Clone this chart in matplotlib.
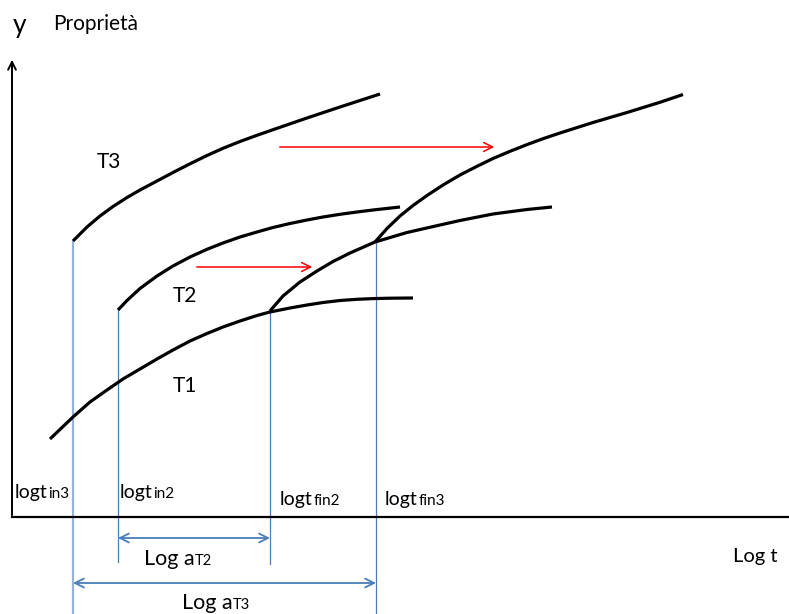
import numpy as np
import matplotlib.pyplot as plt

# curves (image pixel coords, y grows downward)
t1_x = [50, 73, 90, 107, 123, 140, 157, 173, 190, 207, 223, 240, 257, 270, 290, 307, 323, 340, 357, 373, 390, 413]
t1_y = [439, 417, 402, 390, 379, 369, 359, 350, 341, 333.5, 327, 321, 315.5, 312, 308, 305, 302.5, 300.5, 299.3, 298.6, 298.2, 298]
t2_x = [118, 127, 140, 157, 173, 190, 207, 223, 240, 257, 273, 290, 307, 323, 340, 357, 373, 400]
t2_y = [310, 300.5, 288.5, 276, 266, 257, 249.3, 243, 237, 232, 227.5, 223.5, 220, 217, 214.3, 212, 210, 207]
t3_x = [73, 87, 100, 113, 127, 140, 157, 173, 190, 207, 223, 240, 257, 273, 307, 340, 380]
t3_y = [241, 227, 216, 206.5, 197.5, 190, 181, 172.5, 163.8, 155.5, 148.3, 141.5, 135.3, 129.7, 118, 107, 94]
t2s_x = [270, 283, 300, 317, 333, 350, 375, 407, 440, 460, 493, 527, 552]
t2s_y = [311, 296, 282, 271, 261.5, 253, 242, 232.5, 225, 220.5, 214, 209.5, 207]
t3s_x = [375, 387, 400, 413, 427, 443, 460, 477, 493, 510, 527, 543, 560, 593, 627, 660, 683]
t3s_y = [242, 228.5, 216, 205.5, 195.5, 185, 175, 166.3, 158.5, 151.3, 144.6, 138.7, 133, 122.5, 112.5, 102.3, 94.5]

# vertical guides: x, top, bottom, colour, width
guides = [(73, 241, 614, '#95b3d7', 1.6), (118, 310, 562, '#4a7ebb', 0.9),
          (270, 312, 564, '#4a7ebb', 0.9), (376, 242, 614, '#4a7ebb', 0.9)]

fig = plt.figure(figsize=(7.89, 6.14), dpi=100)
ax = fig.add_axes([0, 0, 1, 1])
ax.set_xlim(0, 789)
ax.set_ylim(614, 0)
ax.axis('off')

for xs, ys in [(t1_x, t1_y), (t2_x, t2_y), (t3_x, t3_y), (t2s_x, t2s_y), (t3s_x, t3s_y)]:
    ax.plot(xs, ys, color='black', lw=2.3, solid_capstyle='butt', solid_joinstyle='round', zorder=3)

for gx, top, bot, c, w in guides:
    ax.plot([gx, gx], [top, bot], color=c, lw=w, zorder=2)

# axes
ax.plot([12, 789], [517, 517], color='black', lw=1.6)
ax.annotate('', xy=(12, 57), xytext=(12, 518),
            arrowprops=dict(arrowstyle='->', color='black', lw=1.4, mutation_scale=14))

# red arrows
ax.annotate('', xy=(497, 147), xytext=(277, 147),
            arrowprops=dict(arrowstyle='->', color='#ff0000', lw=1.1, mutation_scale=16))
ax.annotate('', xy=(315, 267), xytext=(194, 267),
            arrowprops=dict(arrowstyle='->', color='#ff0000', lw=1.1, mutation_scale=16))

# blue double arrows
ax.annotate('', xy=(270, 538), xytext=(118, 538),
            arrowprops=dict(arrowstyle='<->', color='#4a7ebb', lw=1.3, mutation_scale=16,
                            shrinkA=0, shrinkB=0))
ax.annotate('', xy=(376, 583), xytext=(73, 583),
            arrowprops=dict(arrowstyle='<->', color='#4a7ebb', lw=1.3, mutation_scale=16,
                            shrinkA=0, shrinkB=0))

fam = 'Lato'
ax.text(13, 33, 'y', fontsize=19, family=fam, va='baseline')
ax.text(53, 30, 'Proprietà', fontsize=15, family=fam, va='baseline')
ax.text(97, 168, 'T3', fontsize=15, family=fam, va='baseline')
ax.text(173, 302, 'T2', fontsize=15, family=fam, va='baseline')
ax.text(173, 392, 'T1', fontsize=15, family=fam, va='baseline')
ax.text(733, 562, 'Log t', fontsize=14.5, family=fam, va='baseline')

# main word + small trailing part on the same baseline
pieces = [(15, 498, 'logt', 'in3', 14, 11), (120, 498, 'logt', 'in2', 14, 11),
          (280, 505, 'logt', 'fin2', 14, 11), (385, 505, 'logt', 'fin3', 14, 11),
          (144, 565, 'Log a', 'T2', 15.5, 10.5), (182, 609, 'Log a', 'T3', 15.5, 10.5)]
fig.canvas.draw()
r = fig.canvas.get_renderer()
inv = ax.transData.inverted()
for lx, ly, main, sub, s1, s2 in pieces:
    t = ax.text(lx, ly, main, fontsize=s1, family=fam, va='baseline')
    bb = t.get_window_extent(renderer=r)
    x_end = inv.transform((bb.x1, bb.y0))[0]
    ax.text(x_end + 0.5, ly, sub, fontsize=s2, family=fam, va='baseline')

fig.savefig('out.png', dpi=100)
